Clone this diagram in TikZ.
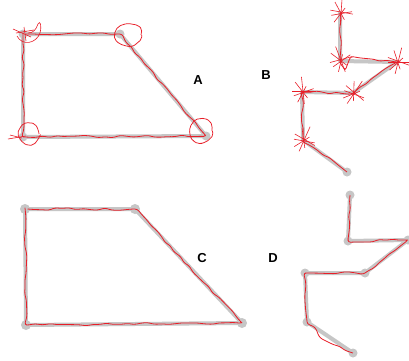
\documentclass[tikz,border=0pt]{standalone}
\usepackage{fontspec}
\setsansfont{Liberation Sans}
\usetikzlibrary{decorations.pathmorphing}
\definecolor{guidegray}{RGB}{198,198,198}
\definecolor{penred}{RGB}{232,30,40}
\newcommand\scribstar[2]{%
  \foreach \a/\l/\m in {0/13/10,52/8/12,84/12/15,118/11/7,160/9/12}{%
    \draw[starline] (#1) ++({\a+#2}:{\l}) -- ++({\a+#2+185}:{\l+\m});}}
\begin{document}
\begin{tikzpicture}[x=1pt,y=-1pt,
  guide/.style={line width=4pt, draw=guidegray, line cap=round, line join=round},
  dot/.style={fill=guidegray},
  stroke/.style={draw=penred, line width=0.8pt, decorate,
     decoration={random steps, segment length=7pt, amplitude=1.4pt}, rounded corners=2.5pt},
  loop/.style={draw=penred, line width=0.75pt, decorate,
     decoration={random steps, segment length=5pt, amplitude=1pt}, rounded corners=2pt},
  starline/.style={draw=penred, line width=0.6pt},
  lab/.style={font=\sffamily\bfseries\fontsize{13}{13}\selectfont, inner sep=0pt}]
\pgfmathsetseed{11}
\useasboundingbox (0,0) rectangle (409,360);
\fill[white] (0,0) rectangle (409,360);
% ---------- Panel A ----------
\coordinate (a1) at (23,34);
\coordinate (a2) at (120,34);
\coordinate (a3) at (206,136);
\coordinate (a4) at (23,137);
\draw[guide] (a1) -- (a2) -- (a3) -- (a4) -- cycle;
\foreach \p in {a1,a2,a3,a4} \fill[dot] (\p) circle (4.5pt);
\draw[stroke] (a1) -- (a2) -- (a3) -- (a4) -- cycle;
\draw[loop] (128,35) ellipse (13pt and 11pt);
\draw[loop] (201,131) ellipse (11pt and 12pt);
\draw[loop] (29,134) ellipse (10pt and 10pt);
\draw[starline] (17,36) .. controls (22,46) and (36,44) .. (40,33) .. controls (42,25) and (40,20) .. (38,24) .. controls (36,30) and (33,33) .. (28,33);
\draw[starline] (13,29) -- (31,37);
\draw[starline] (24,27) -- (26,41);
\draw[starline] (16,33) -- (34,30);
\draw[starline] (8,139) -- (26,136);
\draw[starline] (10,135) -- (22,138);
\node[lab] (labA) at (198,80) {A};
% ---------- Panel B ----------
\coordinate (b1) at (340,13);
\coordinate (b2) at (340,61);
\coordinate (b3) at (397,62);
\coordinate (b4) at (353,93);
\coordinate (b5) at (302,92);
\coordinate (b6) at (303,140);
\coordinate (b7) at (347,172);
\draw[guide] (b1) -- (b2) -- (b3) -- (b4) -- (b5) -- (b6) -- (b7);
\fill[dot] (b7) circle (4.5pt);
\draw[stroke] (b1) -- (b2) -- (345,70) -- (350,58) -- (b3) -- (b4) -- (b5) -- (b6) -- (b7);
\scribstar{b1}{5}
\scribstar{b2}{-20}
\scribstar{b3}{15}
\scribstar{b4}{35}
\scribstar{b5}{-5}
\scribstar{b6}{25}
\node[lab] (labB) at (266,75) {B};
% ---------- Panel C ----------
\coordinate (c1) at (25,209);
\coordinate (c2) at (135,209);
\coordinate (c3) at (242,323);
\coordinate (c4) at (26,325);
\draw[guide] (c1) -- (c2) -- (c3) -- (c4) -- cycle;
\foreach \p in {c1,c2,c3,c4} \fill[dot] (\p) circle (5pt);
\draw[stroke] (c1) -- (c2) -- (c3) -- (c4) -- cycle;
\node[lab] (labC) at (202,258) {C};
% ---------- Panel D ----------
\coordinate (d1) at (350,195);
\coordinate (d2) at (348,241);
\coordinate (d3) at (408,240);
\coordinate (d4) at (365,273);
\coordinate (d5) at (305,273);
\coordinate (d6) at (307,322);
\coordinate (d7) at (353,353);
\draw[guide] (d1) -- (d2) -- (d3) -- (d4) -- (d5) -- (d6) -- (d7);
\foreach \p in {d1,d2,d3,d4,d5,d6,d7} \fill[dot] (\p) circle (4.5pt);
\draw[stroke] (d1) -- (d2) -- (d3) -- (d4) -- (d5) -- (d6) -- (314,327) -- (319,336) -- (d7);
\node[lab] (labD) at (273,258) {D};
\end{tikzpicture}
\end{document}
